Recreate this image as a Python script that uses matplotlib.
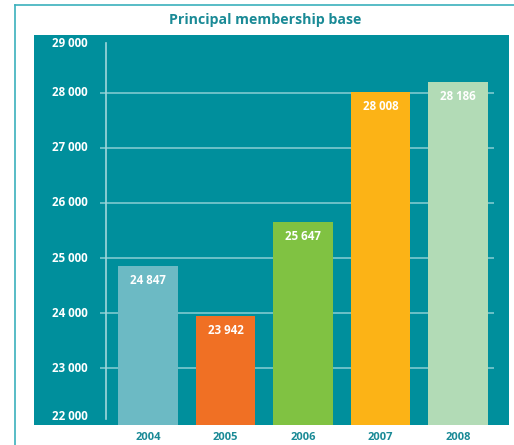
import numpy as np
from matplotlib import pyplot as plt
from matplotlib.lines import Line2D

years = ["2004", "2005", "2006", "2007", "2008"]
members = [24847, 23942, 25647, 28008, 28186]
bar_colors = ["#6cbac4", "#f07024", "#80c242", "#fcb316", "#b2dbb6"]
y_ticks = [22000, 23000, 24000, 25000, 26000, 27000, 28000, 29000]
grid_ticks = [23000, 24000, 25000, 26000, 27000, 28000]

teal = "#008f9c"
dark_teal = "#1a8a96"
frame_col = "#3bb0bc"

plt.rcParams['font.family'] = ['Open Sans', 'DejaVu Sans']


def fmt(v):
    return "{:,}".format(v).replace(",", " ")


fig = plt.figure(figsize=(5.14, 4.45), dpi=100)
ax = fig.add_axes([34 / 514, 1 - 425 / 445, 475 / 514, 390 / 445])
ax.set_facecolor(teal)
for s in ax.spines.values():
    s.set_visible(False)

x = np.arange(len(years))
ax.set_xlim(-1.471, 4.658)
ax.set_ylim(21970, 29047)

# gridlines, tick marks and the vertical axis line
ax.hlines(grid_ticks, -0.62, 4.465, color="#7fc9cf", lw=1.2, zorder=1)
ax.plot([-0.542, -0.542], [22070, 28900], color="#9fd6db", lw=1.2, zorder=1)

ax.bar(x, members, width=0.774, color=bar_colors, zorder=2)

for xi, v in zip(x, members):
    ax.annotate(fmt(v), (xi, v), xytext=(0, -10), textcoords="offset points",
                ha="center", va="center", color="white",
                fontsize=8.3, fontweight="bold", zorder=3)

for t in y_ticks:
    shift = -100 if t == 29000 else (120 if t == 22000 else 0)
    ax.text(-0.78, t + shift, fmt(t), ha="right", va="center", color="white",
            fontsize=8.3, fontweight="bold")

ax.set_xticks([])
ax.set_yticks([])

for xi, yr in zip(x, years):
    ax.annotate(yr, (xi, 0), xycoords=("data", "axes fraction"),
                xytext=(0, -8.8), textcoords="offset points", ha="center",
                va="center", color=dark_teal, fontsize=8, fontweight="bold",
                annotation_clip=False)

fig.text(265 / 514, 1 - 20 / 445, "Principal membership base", ha="center",
         va="center", color=dark_teal, fontsize=10.2, fontweight="bold")

# outer frame
fig.add_artist(Line2D([14.5 / 514, 14.5 / 514], [0, 1 - 4.5 / 445],
                      transform=fig.transFigure, color=frame_col, lw=1.2))
fig.add_artist(Line2D([14.5 / 514, 1], [1 - 4.5 / 445, 1 - 4.5 / 445],
                      transform=fig.transFigure, color=frame_col, lw=1.2))

plt.savefig("out.png", dpi=100)
plt.close()
